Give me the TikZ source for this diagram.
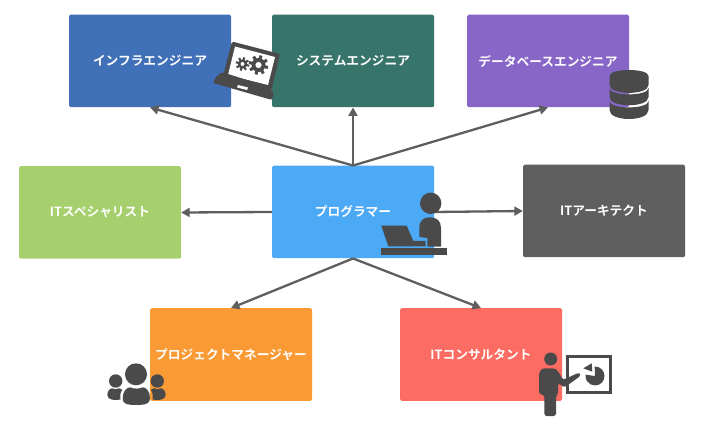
\documentclass[tikz,border=0pt]{standalone}
\usepackage{fontspec}
\setmainfont{Noto Sans CJK JP}[BoldFont={Noto Sans CJK JP Bold}]
\usetikzlibrary{arrows.meta}
\definecolor{ink}{HTML}{4A4A4A}
\definecolor{arrowc}{HTML}{5E5E5E}
\definecolor{cinfra}{HTML}{4070B8}
\definecolor{csys}{HTML}{37746A}
\definecolor{cdb}{HTML}{8866C8}
\definecolor{cspec}{HTML}{A6D06E}
\definecolor{cprog}{HTML}{4CA9F5}
\definecolor{carch}{HTML}{5F5F5F}
\definecolor{cpm}{HTML}{FA9A35}
\definecolor{ccons}{HTML}{FC6C62}
\tikzset{
  role/.style={fill=#1,rounded corners=1.5pt,minimum width=162pt,minimum height=92.5pt,inner sep=0pt,
    text=white,font=\fontsize{12.7pt}{14pt}\selectfont\bfseries},
  link/.style={draw=arrowc,line width=2.3pt,-{Triangle[length=8.5pt,width=9pt]}}
}
\begin{document}
\begin{tikzpicture}[x=1pt,y=-1pt]
\useasboundingbox (0,0) rectangle (720,438);
\fill[white] (0,0) rectangle (720,438);
\node[role=cinfra] (infra) at (150,61) {インフラエンジニア};
\node[role=csys] (sys) at (353,61) {システムエンジニア};
\node[role=cdb] (db) at (548,61) {データベースエンジニア};
\node[role=cspec] (spec) at (100,212.5) {ITスペシャリスト};
\node[role=cprog] (prog) at (353,212) {プログラマー};
\node[role=carch] (arch) at (604,211) {ITアーキテクト};
\node[role=cpm] (pm) at (231,354.5) {プロジェクトマネージャー};
\node[role=ccons] (cons) at (481,354.5) {ITコンサルタント};
\draw[link] (prog.north) -- (infra.south);
\draw[link] (prog.north) -- (sys.south);
\draw[link] (prog.north) -- (db.south);
\draw[link] (prog.west) -- (spec.east);
\draw[link] (prog.east) -- (arch.west);
\draw[link] (prog.south) -- (pm.north);
\draw[link] (prog.south) -- (cons.north);
% laptop with gears
\fill[ink,rounded corners=1.5pt] (232,41.5) -- (280,54) -- (271,92) -- (222,80) -- cycle;
\fill[white] (235,46.5) -- (275,57) -- (268,85) -- (228,75) -- cycle;
\fill[ink,rounded corners=2pt] (222,72) -- (215,78) -- (213,83) -- (272,100) -- (274,92) -- (268,87) -- cycle;
\fill[white] (238,85) -- (248,87.5) -- (247,90) -- (237,87.5) -- cycle;
\foreach \cx/\cy/\rb/\rh/\rt/\w in {242.5/64/4.6/2.1/6.8/2.1,258.5/65/7/3.2/9.8/3}{
  \foreach \a in {0,45,...,315}{
    \draw[ink,line width=\w pt] (\cx,\cy) ++(\a+15:\rb-1) -- ++(\a+15:\rt-\rb+1);
  }
  \fill[ink,even odd rule] (\cx,\cy) circle[radius=\rb] (\cx,\cy) circle[radius=\rh];
}
% database
\fill[ink] (609.5,76) .. controls (609.5,68) and (648.5,68) .. (648.5,76) -- (648.5,85)
  .. controls (648.5,95.5) and (609.5,95.5) .. (609.5,85) -- cycle;
\fill[ink] (609.5,88) .. controls (609.5,96.5) and (648.5,96.5) .. (648.5,88) -- (648.5,97)
  .. controls (648.5,108) and (609.5,108) .. (609.5,97) -- cycle;
\fill[ink] (609.5,101) .. controls (609.5,109.5) and (648.5,109.5) .. (648.5,101) -- (648.5,110)
  .. controls (648.5,122) and (609.5,122) .. (609.5,110) -- cycle;
% programmer at desk
\fill[ink] (430.7,203.3) circle[radius=10.7];
\fill[ink] (419.3,237) -- (419.3,228) .. controls (419.3,220) and (424,217.3) .. (430,217.3)
  .. controls (437,217.3) and (441,221) .. (441,228) -- (441,246.7) -- (427.3,246.7) -- (427.3,238) -- cycle;
\fill[ink] (381.3,225.7) -- (406.7,225.7) -- (413.3,241) -- (425.7,241) -- (425.7,246.3) -- (388.3,246.3) -- cycle;
\fill[ink] (380.7,248.3) rectangle (447.3,255);
% team
\fill[ink] (136,374.3) circle[radius=11];
\fill[ink] (115.7,381) circle[radius=6.7];
\fill[ink] (157.3,381) circle[radius=6.7];
\fill[ink] (122.7,398) .. controls (122.7,391) and (127,387.5) .. (130,387.3) .. controls (133,389) and (140,389) .. (143,387.3)
  .. controls (146,387.5) and (150,391) .. (150,398) .. controls (150,403) and (147,405) .. (136,405) .. controls (125,405) and (122.7,403) .. (122.7,398) -- cycle;
\fill[ink] (107.3,395) .. controls (107.3,391) and (110,388.5) .. (112,388.3) .. controls (114,389.5) and (117,389.5) .. (119,388.3)
  .. controls (120.5,388.5) and (122,389.5) .. (122,390) .. controls (120,393) and (120,397) .. (120.5,399.5)
  .. controls (116,400.5) and (107.3,400.5) .. (107.3,395) -- cycle;
\fill[ink] (165.7,395) .. controls (165.7,391) and (163,388.5) .. (161,388.3) .. controls (159,389.5) and (156,389.5) .. (154,388.3)
  .. controls (152.5,388.5) and (151,389.5) .. (151,390) .. controls (153,393) and (153,397) .. (152.5,399.5)
  .. controls (157,400.5) and (165.7,400.5) .. (165.7,395) -- cycle;
% presenter
\fill[ink] (550.7,359) circle[radius=6.5];
\fill[ink,rounded corners=2.5pt] (539,394) -- (539,373) -- (542,368.3) -- (555,368.3) -- (558,371) -- (563,380) -- (579,372.5) -- (581,375.5) -- (564.5,387.5) -- (558,383) -- (558,395) -- (556,395) -- (556,416) -- (544.3,416) -- (544.3,395) -- cycle;
\draw[ink,line width=3pt] (567.2,356.5) rectangle (610.8,392.8);
\fill[ink] (595,376) -- ++(268:9.5) arc[start angle=268,end angle=548,radius=9.5] -- cycle;
\fill[ink] (583.3,368.3) -- (591.7,363.3) -- (592.3,371.7) -- cycle;
\end{tikzpicture}
\end{document}
